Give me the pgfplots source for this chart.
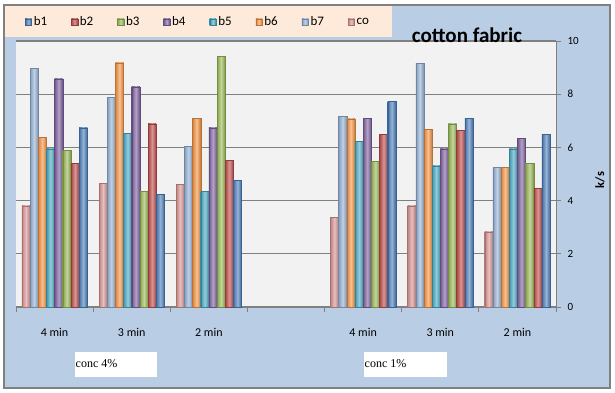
\documentclass[border=0pt]{standalone}
\usepackage{fontspec}
\setmainfont{Carlito}
\newfontfamily\serifb{Liberation Serif}
\usepackage{pgfplots}
\usepackage{pgfplotstable}
\pgfplotsset{compat=1.18}
\definecolor{outerbg}{RGB}{185,205,229}
\definecolor{plotbg}{RGB}{242,242,242}
\definecolor{peach}{RGB}{253,234,218}
\definecolor{frame}{RGB}{128,128,128}
\definecolor{cb1}{RGB}{79,129,189}
\definecolor{cb2}{RGB}{192,80,77}
\definecolor{cb3}{RGB}{155,187,89}
\definecolor{cb4}{RGB}{128,100,162}
\definecolor{cb5}{RGB}{75,172,198}
\definecolor{cb6}{RGB}{247,150,70}
\definecolor{cb7}{RGB}{149,179,215}
\definecolor{cco}{RGB}{217,150,148}
\pgfplotstableread{
x co b7 b6 b5 b4 b3 b2 b1
0 3.81 8.97 6.39 5.95 8.58 5.89 5.41 6.74
1 4.65 7.89 9.18 6.54 8.28 4.36 6.89 4.23
2 4.62 6.05 7.09 4.36 6.74 9.42 5.51 4.77
4 3.37 7.18 7.08 6.23 7.09 5.48 6.49 7.74
5 3.81 9.16 6.69 5.31 5.95 6.88 6.64 7.09
6 2.82 5.26 5.26 5.95 6.35 5.41 4.47 6.49
}\datatable
\pgfplotsset{
  sbar/.style={draw=#1!75!black, line width=0.3pt, left color=#1!88!black, right color=#1!80!black, middle color=#1!60!white},
}
% one plot per bar so that each bar gets its own shading
\newcommand\series[3]{%
  \pgfplotsinvokeforeach{0,1,2,4,5,6}{%
    \addplot[sbar=#1, bar shift=#3, forget plot, restrict x to domain=##1:##1] table[x=x,y=#2]{\datatable};
  }%
}
\begin{document}
\begin{tikzpicture}[x=1pt,y=1pt]
\useasboundingbox (0,0) rectangle (615,392);
\fill[white] (0,0) rectangle (615,392);
\draw[frame, line width=1.5pt, fill=outerbg] (4,4) rectangle (610,387);
\fill[peach] (4.8,355) rectangle (392,386.2);
\begin{axis}[
  at={(16pt,85pt)}, anchor=south west,
  width=540pt, height=266pt, scale only axis,
  xmin=-0.5, xmax=6.5, ymin=0, ymax=10,
  ybar=0pt, bar width=0.106,
  axis x line*=bottom, axis y line*=right,
  axis line style={-, draw=frame, line width=1pt},
  axis background/.style={fill=plotbg},
  xtick={0,1,2,4,5,6},
  xticklabels={4 min,3 min,2 min,4 min,3 min,2 min},
  major x tick style={draw=none},
  minor xtick={-0.5,0.5,...,6.5},
  minor x tick style={draw=frame, line width=0.8pt},
  minor tick length=5pt,
  tick align=outside,
  ytick={0,2,...,10},
  ytick pos=right,
  major tick length=5pt,
  y tick style={draw=frame, line width=0.8pt},
  ymajorgrids,
  grid style={draw=frame, line width=1.2pt},
  xticklabel style={font=\fontsize{12}{14}\selectfont, yshift=-13pt},
  yticklabel style={font=\fontsize{11}{13}\selectfont, xshift=3pt},
  /pgf/number format/assume math mode=true,
  legend columns=8,
  legend style={at={(rel axis cs:0.337,1.071)}, anchor=center, draw=none, fill=none,
    font=\fontsize{13}{15}\selectfont,
    /tikz/every even column/.append style={column sep=22pt}},
  legend image code/.code={\draw[#1] (0pt,-3.2pt) rectangle (6.4pt,3.2pt);},
]
\series{cco}{co}{-0.371}
\series{cb7}{b7}{-0.265}
\series{cb6}{b6}{-0.159}
\series{cb5}{b5}{-0.053}
\series{cb4}{b4}{0.053}
\series{cb3}{b3}{0.159}
\series{cb2}{b2}{0.265}
\series{cb1}{b1}{0.371}
\addlegendimage{sbar=cb1}\addlegendentry{b1}
\addlegendimage{sbar=cb2}\addlegendentry{b2}
\addlegendimage{sbar=cb3}\addlegendentry{b3}
\addlegendimage{sbar=cb4}\addlegendentry{b4}
\addlegendimage{sbar=cb5}\addlegendentry{b5}
\addlegendimage{sbar=cb6}\addlegendentry{b6}
\addlegendimage{sbar=cb7}\addlegendentry{b7}
\addlegendimage{sbar=cco}\addlegendentry{co}
\end{axis}
\node[anchor=base, inner sep=0pt, font=\bfseries\fontsize{21}{24}\selectfont] at (467,349) {cotton fabric};
\node[rotate=90, font=\bfseries\fontsize{12.5}{14}\selectfont] at (600,212) {k/s};
\fill[white] (75,15) rectangle (157,40);
\node[anchor=west, inner sep=0pt, font=\serifb\fontsize{12}{14}\selectfont] at (75.5,28) {conc 4\%};
\fill[white] (364,15) rectangle (447,40);
\node[anchor=west, inner sep=0pt, font=\serifb\fontsize{12}{14}\selectfont] at (364.5,28) {conc 1\%};
\end{tikzpicture}
\end{document}
